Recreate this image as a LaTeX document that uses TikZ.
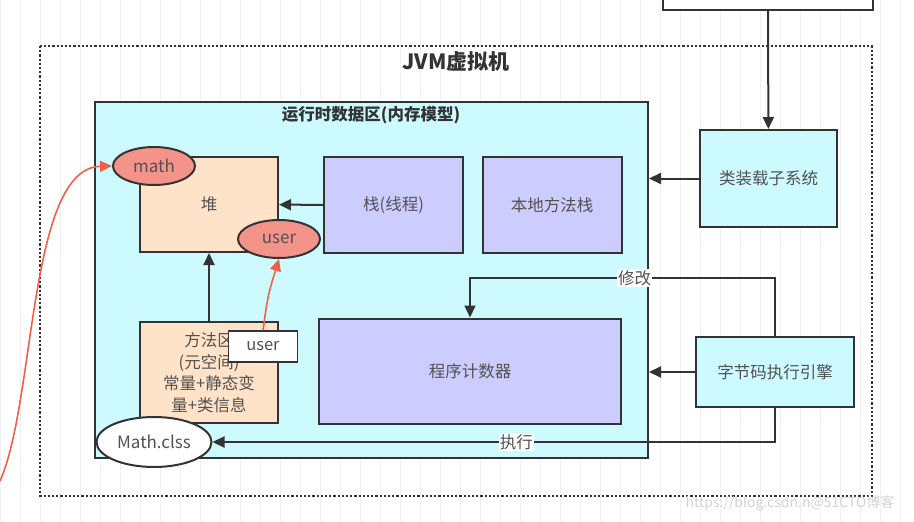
\documentclass[tikz,border=0pt]{standalone}
\usepackage{fontspec}
\setmainfont{Noto Sans CJK SC}
\usepackage{tikz}
\usetikzlibrary{arrows.meta,shapes.geometric}

\definecolor{ink}{HTML}{333333}
\definecolor{cyanbg}{HTML}{CCFAFF}
\definecolor{lav}{HTML}{CCCCFF}
\definecolor{peach}{HTML}{FFE3C8}
\definecolor{salmon}{HTML}{F3938A}
\definecolor{redline}{HTML}{F2604C}

\tikzset{
  box/.style={draw=ink, line width=2pt, inner sep=0pt, text=ink!85, align=center,
    font=\fontsize{16.5}{21.5}\selectfont},
  oval/.style={ellipse, draw=ink, line width=2pt, inner sep=0pt, text=ink!85,
    font=\fontsize{17}{19}\selectfont},
  arr/.style={draw=ink, line width=2pt, -{Triangle[length=12pt,width=11pt]}},
  redarr/.style={draw=redline, line width=1.6pt, -{Triangle[length=12pt,width=11pt]}},
  lbl/.style={fill=white, inner sep=1pt, text=ink!85, font=\fontsize{16.5}{18}\selectfont}
}

\begin{document}
\begin{tikzpicture}[x=1pt, y=-1pt]
  \useasboundingbox (0,0) rectangle (914,522);
  \clip (0,0) rectangle (914,522);
  \draw[gray!12, line width=0.6pt] (0,0) grid[step=20] (914,522);

  \node(top) [box, fill=white, minimum width=210, minimum height=30] at (768,-5) {};
  \draw[ink, line width=2.2pt, dotted] (40,46) rectangle (872,496);
  \node(jvm) [text=ink, font=\fontsize{21}{24}\selectfont\bfseries] at (456,62) {JVM虚拟机};

  \node(rt)  [box, fill=cyanbg, minimum width=553, minimum height=356] at (371.5,280) {};
  \node(rtl) [text=ink, font=\fontsize{16.5}{18}\selectfont\bfseries] at (371,115) {运行时数据区(内存模型)};

  \node(heap)   [box, fill=peach, minimum width=138, minimum height=95] at (209,204.5) {堆};
  \node(stack)  [box, fill=lav, minimum width=139, minimum height=96] at (393.5,205) {栈(线程)};
  \node(native) [box, fill=lav, minimum width=139, minimum height=96] at (552,205) {本地方法栈};
  \node(loader) [box, fill=cyanbg, minimum width=137, minimum height=97] at (768.5,178.5) {类装载子系统};
  \node(marea)  [box, fill=peach, minimum width=138, minimum height=101] at (209,372.5)
    {方法区\\(元空间)\\常量+静态变\\量+类信息};
  \node(pc)     [box, fill=lav, minimum width=302, minimum height=105] at (470,371) {程序计数器};
  \node(engine) [box, fill=cyanbg, minimum width=158, minimum height=70] at (775,372) {字节码执行引擎};

  \node(math)   [oval, fill=salmon, minimum width=82, minimum height=38] at (154,166) {math};
  \node(user)   [oval, fill=salmon, minimum width=82, minimum height=38] at (279,239) {user};
  \node(mclass) [oval, fill=white, minimum width=115, minimum height=50] at (154,442) {Math.clss};
  \node(userl)  [box, fill=white, line width=1.6pt, minimum width=69, minimum height=31] at (263,346.5) {user};

  \draw[arr] (top) -- (loader);
  \draw[arr] (stack) -- (heap);
  \draw[arr] (loader.west) -- (loader.west -| rt.east);
  \draw[arr] (engine.west) -- (engine.west -| rt.east);
  \draw[arr] (marea.north) -- (heap);

  \coordinate(modc) at (775,278);
  \draw[arr] (engine.north) -- (modc) -| node[lbl, pos=0.23] {修改} (pc.north);
  \draw[arr] (engine.south) |- node[lbl, pos=0.73] {执行} (mclass.east);

  \coordinate(src) at (0,481);
  \draw[redarr] (src) .. controls (36,400) and (28,168) .. (math.west);
  \draw[redarr] (userl.north) .. controls (268,295) .. (user.south);

  \node(wm) [text=gray!35, font=\fontsize{14}{16}\selectfont] at (790,503) {https://blog.csdn.n@51CTO博客};
\end{tikzpicture}
\end{document}
